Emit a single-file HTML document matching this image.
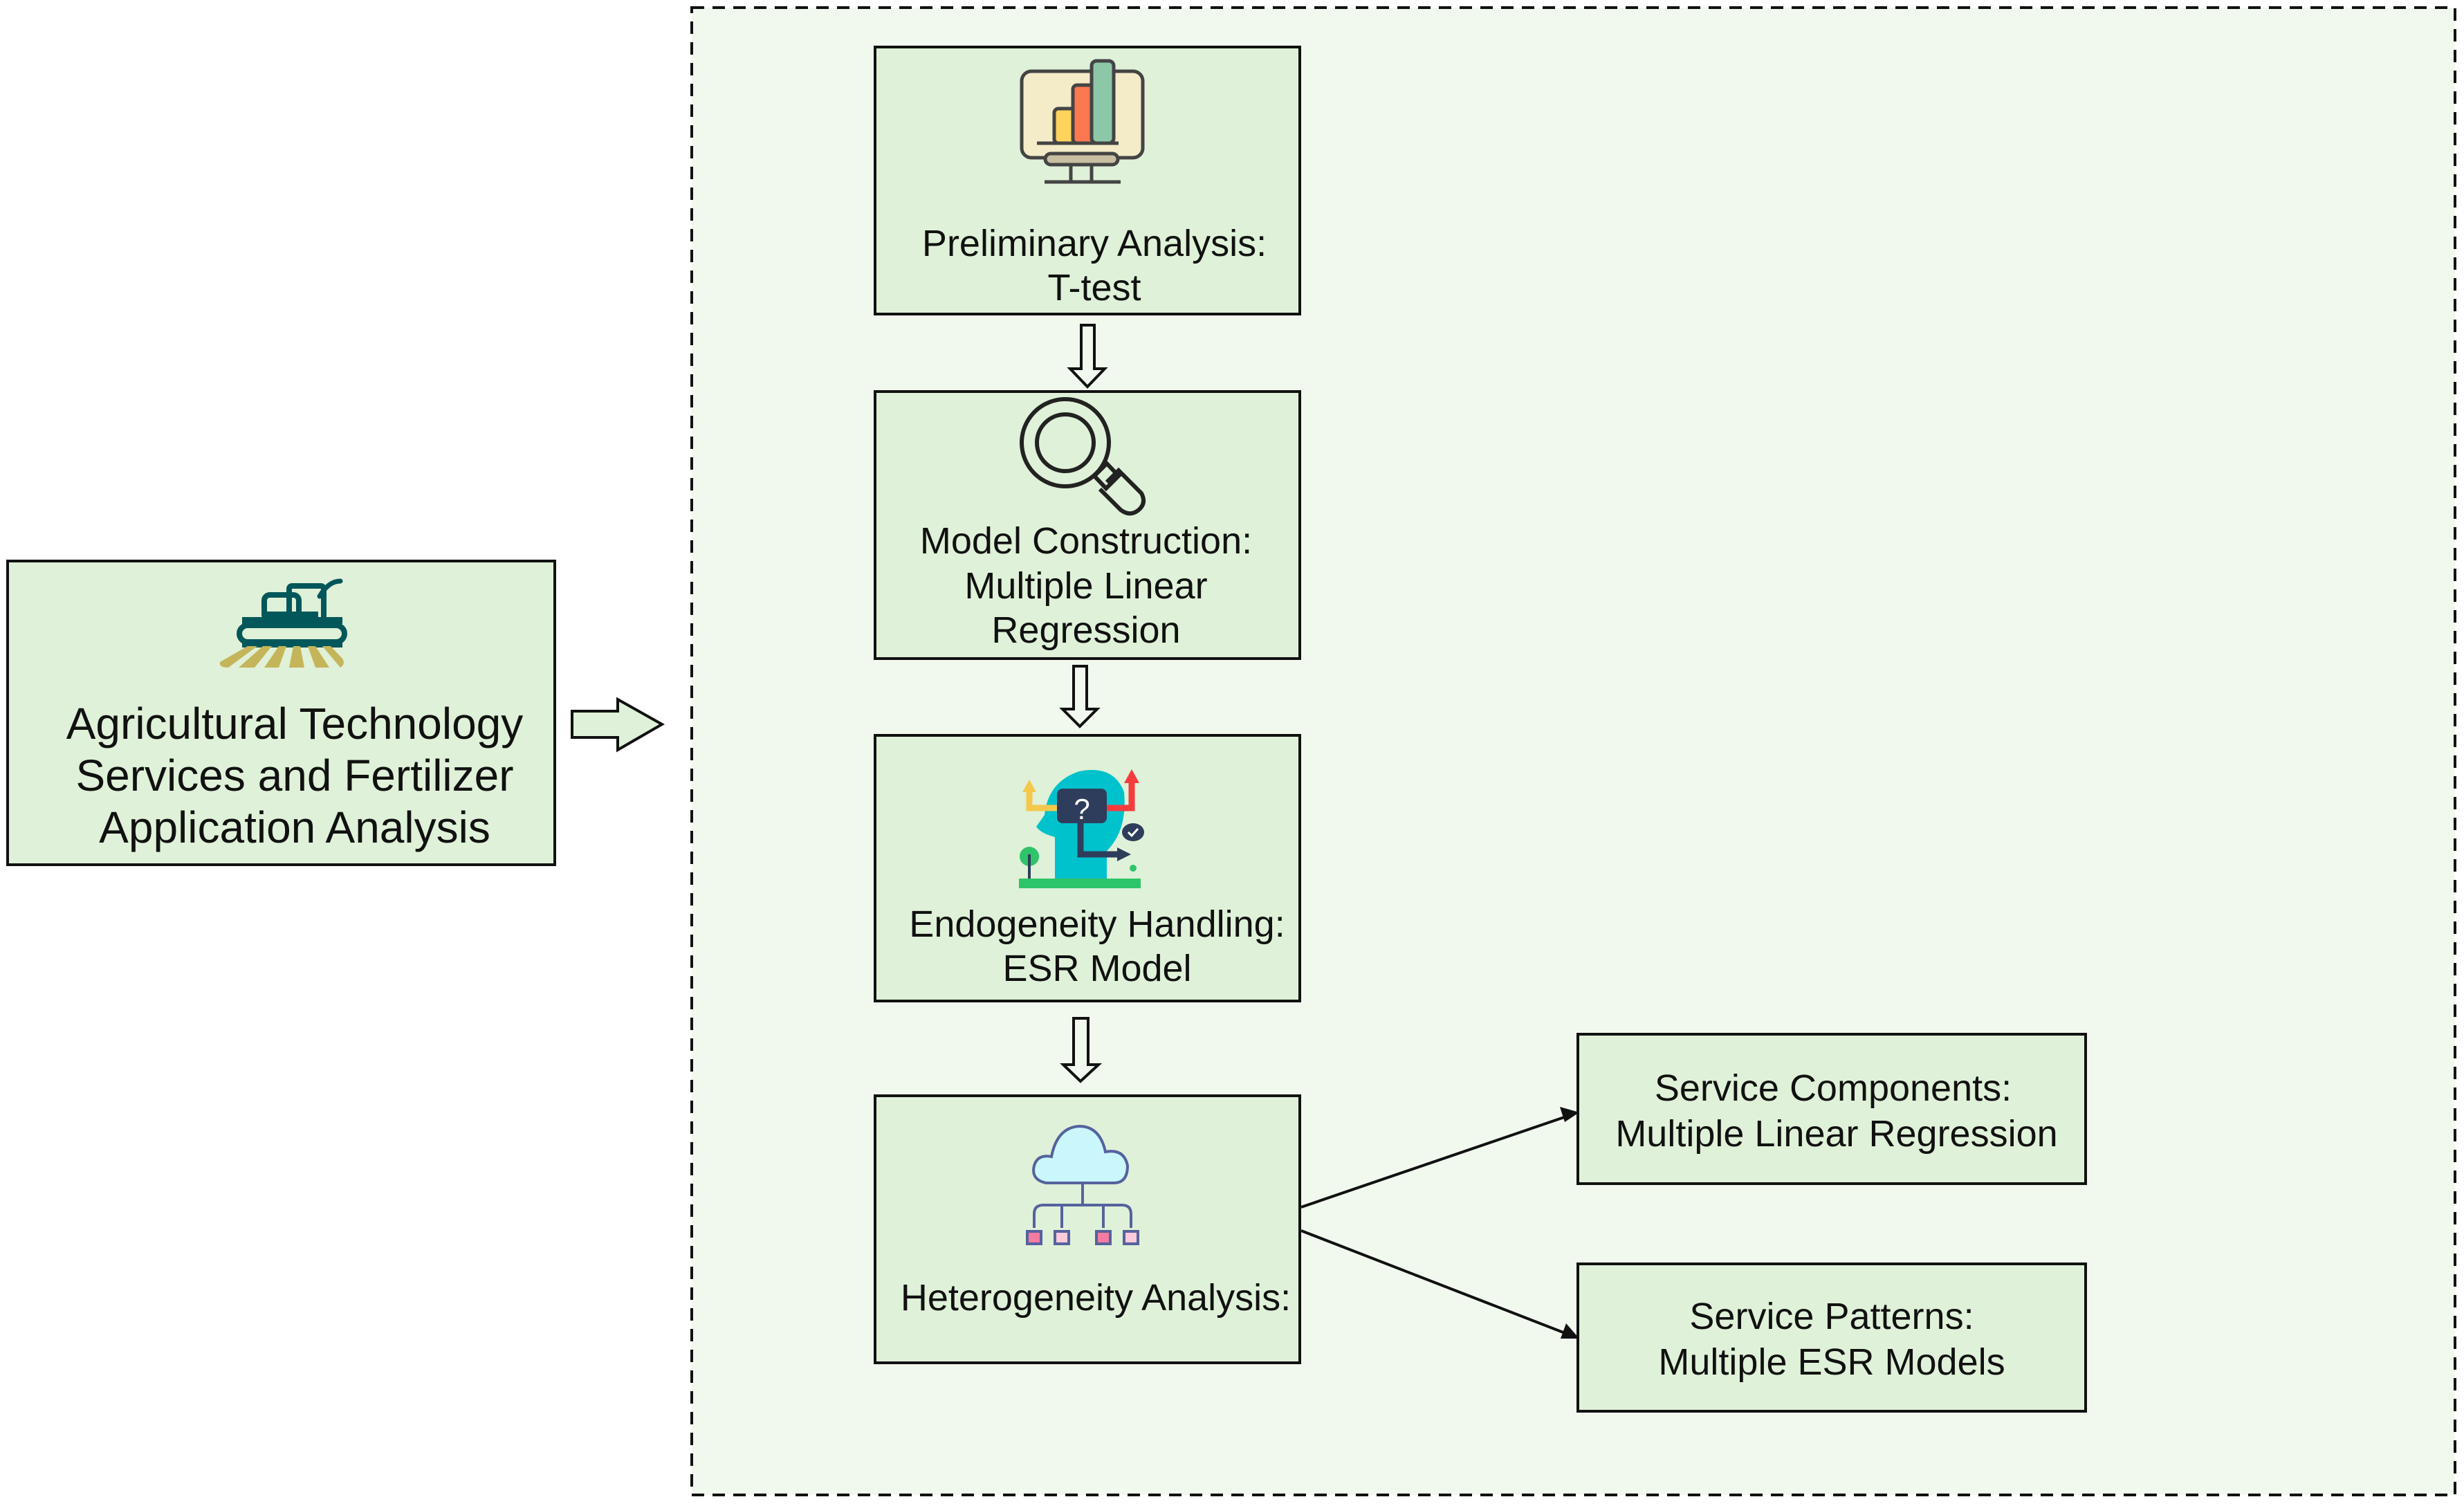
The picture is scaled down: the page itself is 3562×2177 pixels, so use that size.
<!DOCTYPE html>
<html><head><meta charset="utf-8"><style>
html,body{margin:0;padding:0;background:#fff;}
svg{display:block;}
text{font-family:"Liberation Sans",Arial,sans-serif;fill:#111;}
</style></head><body>
<svg width="3562" height="2177" viewBox="0 0 3562 2177" xmlns="http://www.w3.org/2000/svg">
<!-- container -->
<rect x="1000" y="11" width="2549" height="2150" fill="#f1f8ee" stroke="#111" stroke-width="4" stroke-dasharray="18,12"/>
<!-- left box -->
<rect x="11" y="811" width="791" height="439" fill="#dff1d8" stroke="#111" stroke-width="4"/>
<g font-size="64" text-anchor="middle">
<text x="426" y="1068">Agricultural Technology</text>
<text x="426" y="1143">Services and Fertilizer</text>
<text x="426" y="1218">Application Analysis</text>
</g>
<!-- tractor icon -->
<g>
<rect x="382" y="860" width="50" height="36" rx="8" fill="none" stroke="#02575a" stroke-width="8"/>
<rect x="418" y="847" width="50" height="50" rx="4" fill="none" stroke="#02575a" stroke-width="8"/>
<path d="M462 862 Q 475 840 492 840" fill="none" stroke="#02575a" stroke-width="7" stroke-linecap="round"/>
<rect x="386" y="884" width="74" height="14" fill="#02575a"/>
<rect x="350" y="892" width="145" height="10" fill="#02575a"/>
<rect x="346" y="904" width="152" height="24" rx="12" fill="none" stroke="#02575a" stroke-width="8"/>
<rect x="350" y="928" width="145" height="8" fill="#02575a"/>
<path d="M358 934 L 318 957 Q 316 965 330 965 L 372 934 Z M380 934 L 345 965 L 368 965 L 393 934 Z M403 934 L 382 965 L 403 965 L 414 934 Z M424 934 L 418 965 L 440 965 L 434 934 Z M445 934 L 456 965 L 476 965 L 456 934 Z M466 934 L 492 965 Q 500 960 495 952 L 478 934 Z" fill="#c5b55a"/>
</g>
<!-- big right arrow -->
<path d="M827 1028 L 893 1028 L 893 1011 L 957 1047 L 893 1084 L 893 1066 L 827 1066 Z" fill="#dff1d8" stroke="#111" stroke-width="4"/>

<!-- box1 -->
<rect x="1265" y="68" width="614" height="386" fill="#dff1d8" stroke="#111" stroke-width="4"/>
<g font-size="54" text-anchor="middle">
<text x="1582" y="370">Preliminary Analysis:</text>
<text x="1582" y="434">T-test</text>
</g>
<g stroke="#444" stroke-width="5">
<rect x="1477" y="103" width="175" height="125" rx="14" fill="#f4ebc9"/>
<rect x="1524" y="157" width="30" height="50" rx="6" fill="#fdd35b"/>
<rect x="1551" y="123" width="32" height="84" rx="6" fill="#fb7850"/>
<rect x="1578" y="88" width="32" height="119" rx="7" fill="#8cc7a8"/>
<line x1="1499" y1="207" x2="1617" y2="207"/>
<rect x="1511" y="222" width="105" height="16" rx="8" fill="#c8bfa3"/>
<line x1="1548" y1="238" x2="1548" y2="262"/>
<line x1="1578" y1="238" x2="1578" y2="262"/>
<line x1="1510" y1="263" x2="1620" y2="263"/>
</g>
<!-- arrow 1 -->
<path d="M1563 470 L 1582 470 L 1582 533 L 1597 533 L 1572 559 L 1547 533 L 1563 533 Z" fill="#f1f8ee" stroke="#111" stroke-width="4"/>

<!-- box2 -->
<rect x="1265" y="566" width="614" height="386" fill="#dff1d8" stroke="#111" stroke-width="4"/>
<g font-size="54" text-anchor="middle">
<text x="1570" y="800">Model Construction:</text>
<text x="1570" y="865">Multiple Linear</text>
<text x="1570" y="929">Regression</text>
</g>
<g fill="none" stroke="#222" stroke-width="6">
<circle cx="1540" cy="640" r="63"/>
<circle cx="1540" cy="640" r="41"/>
<path d="M1582 688 L 1600 670 L 1617 688 L 1599 706 Z"/>
<path d="M1600 697 L 1617 680 L 1650 713 Q 1658 728 1645 738 Q 1633 747 1620 737 L 1590 707"/>
</g>
<!-- arrow 2 -->
<path d="M1552 963 L 1571 963 L 1571 1025 L 1586 1025 L 1561 1050 L 1536 1025 L 1552 1025 Z" fill="#f1f8ee" stroke="#111" stroke-width="4"/>

<!-- box3 -->
<rect x="1265" y="1063" width="614" height="384" fill="#dff1d8" stroke="#111" stroke-width="4"/>
<g font-size="54" text-anchor="middle">
<text x="1586" y="1354">Endogeneity Handling:</text>
<text x="1586" y="1418">ESR Model</text>
</g>
<g>
<path d="M1525 1275 L 1525 1210 Q 1505 1205 1498 1195 L 1510 1178 Q 1515 1130 1560 1115 Q 1610 1105 1625 1145 Q 1630 1200 1600 1230 L 1600 1275 Z" fill="#00c2cc"/>
<path d="M1488 1140 L 1488 1168 L 1530 1168" fill="none" stroke="#f5c84c" stroke-width="9"/>
<path d="M1478 1145 L 1488 1127 L 1498 1145 Z" fill="#f5c84c"/>
<path d="M1600 1168 L 1636 1168 L 1636 1130" fill="none" stroke="#f53c3c" stroke-width="9"/>
<path d="M1625 1132 L 1636 1112 L 1647 1132 Z" fill="#f53c3c"/>
<rect x="1528" y="1140" width="72" height="50" rx="8" fill="#2f3d5c"/>
<text x="1564" y="1184" font-size="42" text-anchor="middle" style="fill:#fff">?</text>
<path d="M1562 1190 L 1562 1235 L 1620 1235" fill="none" stroke="#2f3d5c" stroke-width="9"/>
<path d="M1615 1225 L 1635 1235 L 1615 1245 Z" fill="#2f3d5c"/>
<ellipse cx="1638" cy="1203" rx="16" ry="13" fill="#2f3d5c"/>
<path d="M1631 1203 L 1636 1208 L 1645 1198" fill="none" stroke="#fff" stroke-width="3"/>
<circle cx="1488" cy="1238" r="14" fill="#2ec46a"/>
<rect x="1486" y="1235" width="4" height="35" fill="#2f3d5c"/>
<circle cx="1638" cy="1255" r="5" fill="#2ec46a"/>
<rect x="1473" y="1270" width="176" height="14" fill="#2ec46a"/>
</g>
<!-- arrow 3 -->
<path d="M1552 1472 L 1573 1472 L 1573 1539 L 1588 1539 L 1562 1563 L 1537 1539 L 1552 1539 Z" fill="#f1f8ee" stroke="#111" stroke-width="4"/>

<!-- box4 -->
<rect x="1265" y="1584" width="614" height="386" fill="#dff1d8" stroke="#111" stroke-width="4"/>
<text x="1584" y="1894" font-size="54" text-anchor="middle">Heterogeneity Analysis:</text>
<g stroke="#56629e" stroke-width="4">
<path d="M1512 1710 Q 1490 1705 1495 1685 Q 1500 1668 1520 1672 Q 1528 1630 1560 1628 Q 1590 1628 1598 1665 Q 1625 1660 1630 1685 Q 1630 1710 1610 1710 Z" fill="#c9f7fb"/>
<line x1="1565" y1="1710" x2="1565" y2="1742" />
<path d="M1495 1775 L 1495 1755 Q 1495 1742 1508 1742 L 1622 1742 Q 1635 1742 1635 1755 L 1635 1775" fill="none"/>
<line x1="1535" y1="1742" x2="1535" y2="1775"/>
<line x1="1595" y1="1742" x2="1595" y2="1775"/>
<rect x="1485" y="1780" width="20" height="18" fill="#f57ba0"/>
<rect x="1525" y="1780" width="20" height="18" fill="#fbcadb"/>
<rect x="1585" y="1780" width="20" height="18" fill="#f57ba0"/>
<rect x="1625" y="1780" width="20" height="18" fill="#fbcadb"/>
</g>

<!-- diagonal arrows -->
<line x1="1881" y1="1745" x2="2270" y2="1612" stroke="#111" stroke-width="4"/>
<path d="M2283 1608 L 2255 1600 L 2262 1622 Z" fill="#111"/>
<line x1="1881" y1="1779" x2="2270" y2="1930" stroke="#111" stroke-width="4"/>
<path d="M2283 1935 L 2264 1913 L 2256 1935 Z" fill="#111"/>

<!-- right boxes -->
<rect x="2281" y="1495" width="734" height="216" fill="#dff1d8" stroke="#111" stroke-width="4"/>
<g font-size="54" text-anchor="middle">
<text x="2650" y="1591">Service Components:</text>
<text x="2655" y="1657">Multiple Linear Regression</text>
</g>
<rect x="2281" y="1827" width="734" height="213" fill="#dff1d8" stroke="#111" stroke-width="4"/>
<g font-size="54" text-anchor="middle">
<text x="2648" y="1921">Service Patterns:</text>
<text x="2648" y="1987">Multiple ESR Models</text>
</g>
</svg>
</body></html>
